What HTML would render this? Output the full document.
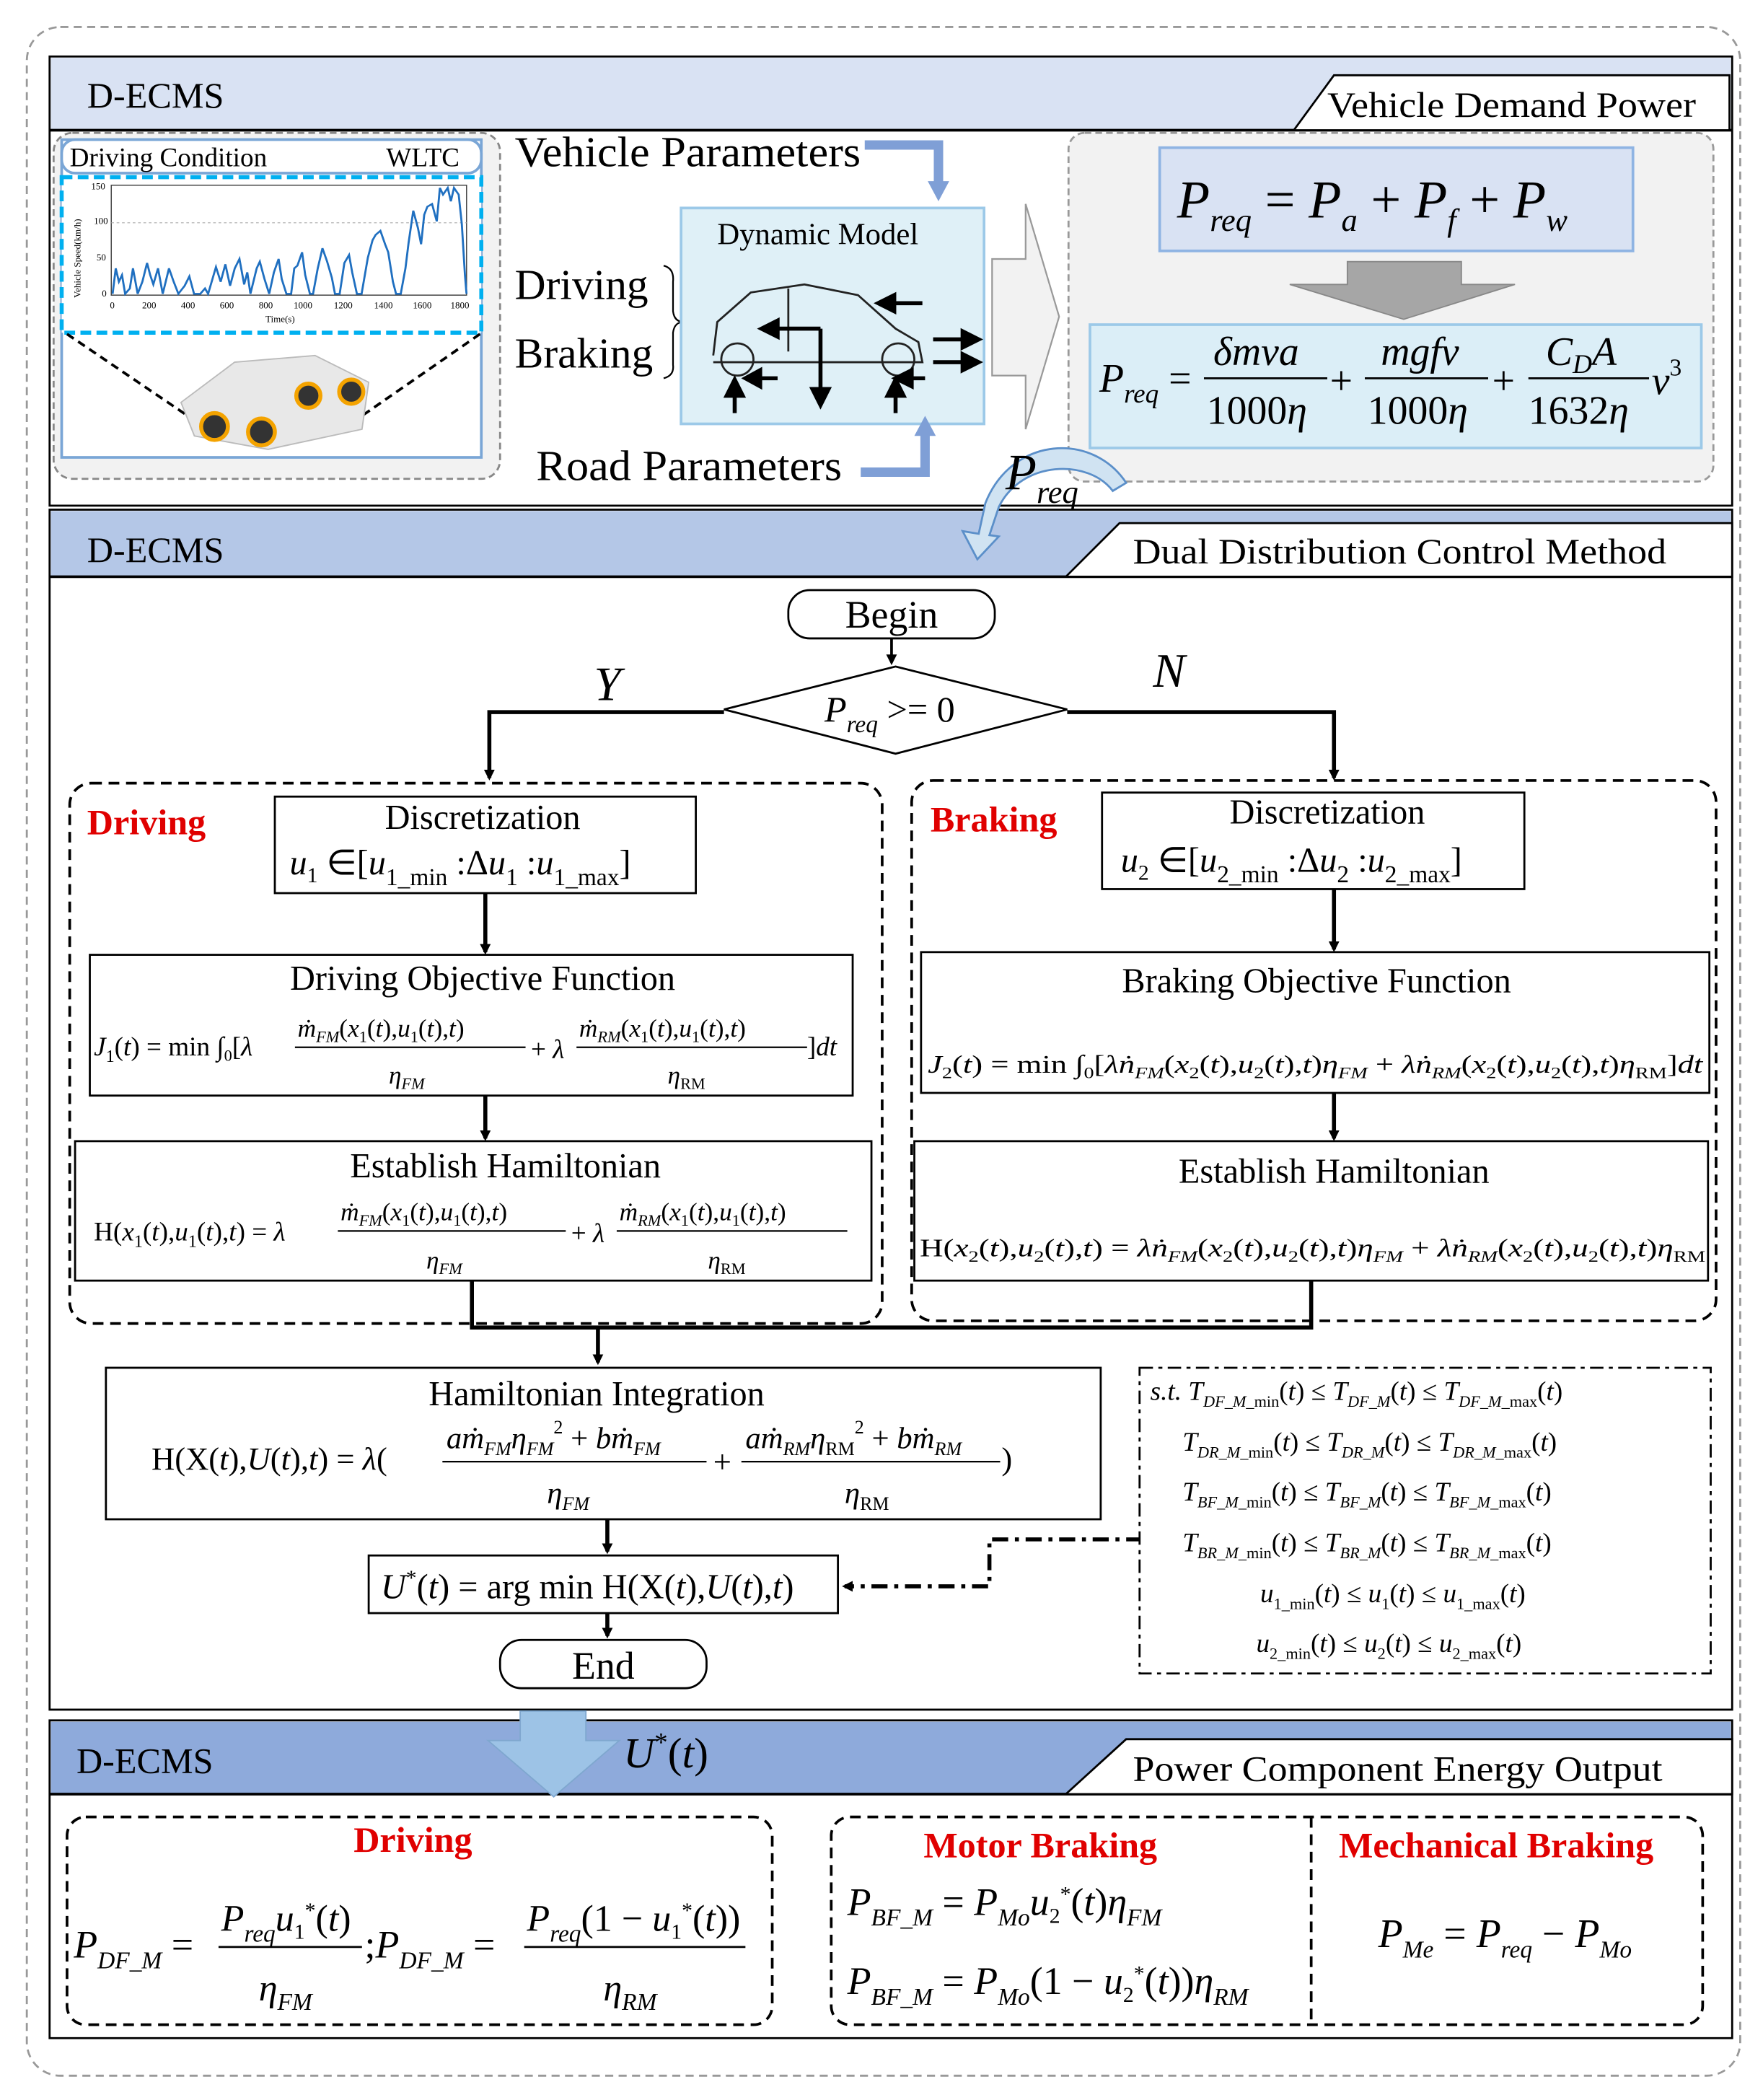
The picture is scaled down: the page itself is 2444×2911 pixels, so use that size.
<!DOCTYPE html>
<html><head><meta charset="utf-8"><style>
html,body{margin:0;padding:0;background:#fff}
svg{display:block}
text{font-family:"Liberation Serif",serif;fill:#000}
.i{font-style:italic}
.red{fill:#e00000;font-weight:bold}
</style></head><body>
<svg width="2444" height="2911" viewBox="0 0 1315 1566" xmlns="http://www.w3.org/2000/svg">
<defs>
<marker id="ah" markerWidth="8" markerHeight="8" refX="6" refY="4" orient="auto" markerUnits="userSpaceOnUse"><path d="M0,0 L8,4 L0,8 Z" fill="#000"/></marker>
</defs>
<rect x="0" y="0" width="1315" height="1566" fill="#fff"/>
<rect x="20" y="20" width="1278" height="1528" rx="25" fill="none" stroke="#999" stroke-width="1.5" stroke-dasharray="6,4"/>

<!-- SECTION 1 -->
<rect x="37" y="42" width="1255" height="335" fill="#fff" stroke="#000" stroke-width="1.5"/>
<rect x="38" y="43" width="1253" height="54" fill="#d9e2f3"/>
<line x1="37" y1="97" x2="1292" y2="97" stroke="#000" stroke-width="2"/>
<text x="65" y="80" font-size="27">D-ECMS</text>
<path d="M965,97 L995,56 L1290,56 L1290,97 Z" fill="#fff" stroke="#000" stroke-width="1.5"/>
<text x="990" y="87" font-size="27" textLength="275" lengthAdjust="spacingAndGlyphs">Vehicle Demand Power</text>

<rect x="40" y="99" width="333" height="258" rx="14" fill="#f2f2f2" stroke="#888" stroke-width="1.5" stroke-dasharray="5,3"/>
<rect x="46" y="104" width="313" height="237" fill="#fff" stroke="#7aa6d6" stroke-width="2"/>
<rect x="46" y="104" width="313" height="25" rx="10" fill="#fff" stroke="#7aa6d6" stroke-width="2"/>
<text x="52" y="124" font-size="20">Driving Condition</text>
<text x="288" y="124" font-size="20">WLTC</text>
<rect x="46" y="132" width="313" height="116" fill="#fff" stroke="#00b0f0" stroke-width="3" stroke-dasharray="8,4"/>
<rect x="83" y="138" width="265" height="82" fill="#fff" stroke="#444" stroke-width="0.8"/>
<line x1="83" y1="166" x2="348" y2="166" stroke="#aaa" stroke-width="0.6" stroke-dasharray="2,2"/>
<polyline transform="translate(84,0) scale(1.168,1) translate(-84,0)" fill="none" stroke="#1f6fc0" stroke-width="1.3" points="84,219 86,200 88,210 90,205 92,219 95,215 97,200 100,219 103,210 106,196 108,205 110,212 113,200 116,219 120,200 123,210 126,219 130,213 133,206 136,219 140,219 143,215 145,219 150,199 153,210 156,197 159,213 162,200 165,193 168,212 170,203 172,219 176,200 178,195 181,208 184,219 187,203 190,193 192,208 195,219 198,219 200,200 202,198 205,188 207,205 210,219 212,219 215,200 218,185 221,195 224,207 226,219 229,219 232,196 235,190 237,203 240,219 243,219 247,192 250,179 252,175 255,172 258,182 260,188 263,210 265,219 268,219 271,200 273,181 276,157 279,170 281,182 283,160 285,154 288,152 291,165 293,140 295,145 298,140 300,150 302,140 305,145 307,167 309,205 310,219"/>
<g font-size="7"><text x="68" y="141">150</text><text x="70" y="167">100</text><text x="72" y="194">50</text><text x="76" y="221">0</text>
<text x="82" y="230">0</text><text x="106" y="230">200</text><text x="135" y="230">400</text><text x="164" y="230">600</text><text x="193" y="230">800</text><text x="219" y="230">1000</text><text x="249" y="230">1200</text><text x="279" y="230">1400</text><text x="308" y="230">1600</text><text x="336" y="230">1800</text>
<text x="198" y="240">Time(s)</text>
<text transform="translate(60,222) rotate(-90)">Vehicle Speed(km/h)</text></g>
<line x1="50" y1="249" x2="140" y2="310" stroke="#000" stroke-width="2" stroke-dasharray="6,4"/>
<line x1="358" y1="249" x2="270" y2="310" stroke="#000" stroke-width="2" stroke-dasharray="6,4"/>
<g>
<path d="M135,300 L175,270 L235,265 L275,285 L270,320 L200,335 L145,325 Z" fill="#e8e8e8" stroke="#bbb"/>
<circle cx="160" cy="318" r="10" fill="#333" stroke="#f4a300" stroke-width="3"/>
<circle cx="195" cy="322" r="10" fill="#333" stroke="#f4a300" stroke-width="3"/>
<circle cx="230" cy="295" r="9" fill="#333" stroke="#f4a300" stroke-width="3"/>
<circle cx="262" cy="292" r="9" fill="#333" stroke="#f4a300" stroke-width="3"/>
</g>

<text x="384" y="124" font-size="32" textLength="258" lengthAdjust="spacingAndGlyphs">Vehicle Parameters</text>
<path d="M645,108 L700,108 L700,138" fill="none" stroke="#7f9fd6" stroke-width="7"/>
<path d="M692,135 L708,135 L700,150 Z" fill="#7f9fd6"/>
<text x="384" y="223" font-size="32">Driving</text>
<text x="384" y="274" font-size="32">Braking</text>
<path d="M495,198 Q503,200 502,210 L502,232 Q503,240 510,240 Q503,240 502,248 L502,272 Q503,280 495,282" fill="none" stroke="#000" stroke-width="1.2"/>
<rect x="508" y="155" width="226" height="161" fill="#dff0f7" stroke="#9cc9e8" stroke-width="2"/>
<text x="535" y="182" font-size="23">Dynamic Model</text>
<g stroke="#222" fill="none" stroke-width="1.5">
<path d="M532,265 L535,240 L560,218 L600,212 L640,220 L668,245 L685,255 L688,270 L532,270"/>
<circle cx="550" cy="268" r="12"/><circle cx="670" cy="268" r="12"/>
<line x1="588" y1="215" x2="588" y2="262"/>
</g>
<g stroke="#000" stroke-width="3" fill="#000">
<line x1="688" y1="226" x2="665" y2="226"/><path d="M655,226 L667,220 L667,232Z"/>
<line x1="612" y1="245" x2="578" y2="245"/><path d="M568,245 L580,239 L580,251Z"/>
<line x1="612" y1="245" x2="612" y2="292"/><path d="M612,302 L606,290 L618,290Z"/>
<line x1="696" y1="253" x2="720" y2="253"/><path d="M730,253 L718,247 L718,259Z"/>
<line x1="696" y1="270" x2="720" y2="270"/><path d="M730,270 L718,264 L718,276Z"/>
<line x1="580" y1="282" x2="565" y2="282"/><path d="M556,282 L567,276 L567,288Z"/>
<line x1="690" y1="282" x2="678" y2="282"/><path d="M668,282 L680,276 L680,288Z"/>
<line x1="548" y1="308" x2="548" y2="292"/><path d="M548,283 L542,295 L554,295Z"/>
<line x1="668" y1="308" x2="668" y2="292"/><path d="M668,283 L662,295 L674,295Z"/>
</g>
<text x="400" y="358" font-size="32" textLength="228" lengthAdjust="spacingAndGlyphs">Road Parameters</text>
<path d="M642,352 L690,352 L690,322" fill="none" stroke="#7f9fd6" stroke-width="7"/>
<path d="M682,325 L698,325 L690,310 Z" fill="#7f9fd6"/>
<path d="M740,193 L765,193 L765,152 L790,236 L765,320 L765,280 L740,280 Z" fill="#f2f2f2" stroke="#999" stroke-width="1.2"/>

<rect x="797" y="99" width="481" height="260" rx="12" fill="#f2f2f2" stroke="#999" stroke-width="1.5" stroke-dasharray="5,3"/>
<rect x="865" y="110" width="353" height="77" fill="#d9e2f3" stroke="#8fb4e3" stroke-width="2"/>
<text x="878" y="162" font-size="40" class="i">P<tspan font-size="24" dy="10">req</tspan><tspan dy="-10" font-style="normal"> = </tspan>P<tspan font-size="24" dy="10">a</tspan><tspan dy="-10" font-style="normal"> + </tspan>P<tspan font-size="24" dy="10">f</tspan><tspan dy="-10" font-style="normal"> + </tspan>P<tspan font-size="24" dy="10">w</tspan></text>
<path d="M1005,195 L1090,195 L1090,212 L1130,212 L1047,238 L962,212 L1005,212 Z" fill="#a6a6a6" stroke="#888"/>
<rect x="813" y="242" width="456" height="92" fill="#dbeef7" stroke="#9cc9e8" stroke-width="2"/>
<text x="820" y="292" font-size="30" class="i">P<tspan font-size="20" dy="8">req</tspan><tspan dy="-8" font-style="normal"> =</tspan></text>
<text x="905" y="272" font-size="30" class="i">δmva</text>
<line x1="898" y1="282" x2="990" y2="282" stroke="#000" stroke-width="1.5"/>
<text x="900" y="316" font-size="30">1000<tspan class="i">η</tspan></text>
<text x="992" y="294" font-size="30">+</text>
<text x="1030" y="272" font-size="30" class="i">mgfv</text>
<line x1="1018" y1="282" x2="1110" y2="282" stroke="#000" stroke-width="1.5"/>
<text x="1020" y="316" font-size="30">1000<tspan class="i">η</tspan></text>
<text x="1113" y="294" font-size="30">+</text>
<text x="1153" y="272" font-size="30" class="i">C<tspan font-size="20" dy="6">D</tspan><tspan dy="-6">A</tspan></text>
<line x1="1140" y1="282" x2="1230" y2="282" stroke="#000" stroke-width="1.5"/>
<text x="1140" y="316" font-size="30">1632<tspan class="i">η</tspan></text>
<text x="1232" y="294" font-size="30" class="i">v<tspan font-size="18" dy="-14" font-style="normal">3</tspan></text>

<!-- SECTION 2 -->
<rect x="37" y="380" width="1255" height="895" fill="#fff" stroke="#000" stroke-width="1.5"/>
<rect x="38" y="381" width="1253" height="49" fill="#b4c7e7"/>
<line x1="37" y1="430" x2="1292" y2="430" stroke="#000" stroke-width="2"/>
<text x="65" y="419" font-size="27">D-ECMS</text>
<path d="M795,430 L835,390 L1292,390 L1292,430 Z" fill="#fff" stroke="#000" stroke-width="1.5"/>
<text x="845" y="420" font-size="27" textLength="398" lengthAdjust="spacingAndGlyphs">Dual Distribution Control Method</text>

<!-- curved Preq arrow -->
<path d="M840,360 C815,322 755,325 735,375 L730,398 L718,396 L729,417 L745,400 L738,399 L745,378 C762,343 812,342 830,366 Z" fill="#d0e3f2" stroke="#5b8fc9" stroke-width="1.5"/>
<text x="750" y="365" font-size="38" class="i">P<tspan font-size="24" dy="10">req</tspan></text>

<rect x="588" y="440" width="154" height="36" rx="16" fill="#fff" stroke="#000" stroke-width="1.5"/>
<text x="665" y="468" font-size="29" text-anchor="middle">Begin</text>
<line x1="665" y1="476" x2="665" y2="494" stroke="#000" stroke-width="2" marker-end="url(#ah)"/>
<path d="M540,529 L668,497 L796,529 L668,562 Z" fill="#fff" stroke="#000" stroke-width="1.5"/>
<text x="615" y="538" font-size="27" class="i">P<tspan font-size="18" dy="8">req</tspan><tspan dy="-8" font-style="normal"> &gt;= 0</tspan></text>
<text x="443" y="522" font-size="36" class="i">Y</text>
<text x="860" y="512" font-size="36" class="i">N</text>
<polyline points="540,531 365,531 365,580" fill="none" stroke="#000" stroke-width="3" marker-end="url(#ah)"/>
<polyline points="796,531 995,531 995,580" fill="none" stroke="#000" stroke-width="3" marker-end="url(#ah)"/>

<rect x="52" y="584" width="606" height="403" rx="16" fill="none" stroke="#000" stroke-width="2" stroke-dasharray="8,5"/>
<rect x="680" y="582" width="600" height="403" rx="16" fill="none" stroke="#000" stroke-width="2" stroke-dasharray="8,5"/>
<text x="65" y="622" font-size="27" class="red">Driving</text>
<text x="694" y="620" font-size="27" class="red">Braking</text>

<rect x="205" y="594" width="314" height="72" fill="#fff" stroke="#000" stroke-width="1.5"/>
<text x="360" y="618" font-size="26" text-anchor="middle">Discretization</text>
<text x="216" y="652" font-size="26"><tspan class="i">u</tspan><tspan font-size="16" dy="6">1</tspan><tspan dy="-6"> ∈[</tspan><tspan class="i">u</tspan><tspan font-size="18" dy="8">1_min</tspan><tspan dy="-8"> :Δ</tspan><tspan class="i">u</tspan><tspan font-size="18" dy="8">1</tspan><tspan dy="-8"> :</tspan><tspan class="i">u</tspan><tspan font-size="18" dy="8">1_max</tspan><tspan dy="-8">]</tspan></text>
<rect x="822" y="591" width="315" height="72" fill="#fff" stroke="#000" stroke-width="1.5"/>
<text x="990" y="614" font-size="26" text-anchor="middle">Discretization</text>
<text x="836" y="650" font-size="26"><tspan class="i">u</tspan><tspan font-size="16" dy="6">2</tspan><tspan dy="-6"> ∈[</tspan><tspan class="i">u</tspan><tspan font-size="18" dy="8">2_min</tspan><tspan dy="-8"> :Δ</tspan><tspan class="i">u</tspan><tspan font-size="18" dy="8">2</tspan><tspan dy="-8"> :</tspan><tspan class="i">u</tspan><tspan font-size="18" dy="8">2_max</tspan><tspan dy="-8">]</tspan></text>

<line x1="362" y1="666" x2="362" y2="710" stroke="#000" stroke-width="3" marker-end="url(#ah)"/>
<line x1="995" y1="663" x2="995" y2="708" stroke="#000" stroke-width="3" marker-end="url(#ah)"/>

<rect x="67" y="712" width="569" height="105" fill="#fff" stroke="#000" stroke-width="1.5"/>
<text x="360" y="738" font-size="26" text-anchor="middle">Driving Objective Function</text>
<text x="70" y="787" font-size="20"><tspan class="i">J</tspan><tspan font-size="13" dy="5">1</tspan><tspan dy="-5">(</tspan><tspan class="i">t</tspan>) = min ∫<tspan font-size="12" dy="4">0</tspan><tspan dy="-4">[</tspan><tspan class="i">λ</tspan></text>
<text x="222" y="773" font-size="19" class="i">ṁ<tspan font-size="12" dy="4">FM</tspan><tspan dy="-4" font-style="normal">(</tspan>x<tspan font-size="12" dy="4" font-style="normal">1</tspan><tspan dy="-4" font-style="normal">(</tspan>t<tspan font-style="normal">),</tspan>u<tspan font-size="12" dy="4" font-style="normal">1</tspan><tspan dy="-4" font-style="normal">(</tspan>t<tspan font-style="normal">),</tspan>t<tspan font-style="normal">)</tspan></text>
<line x1="220" y1="781" x2="392" y2="781" stroke="#000" stroke-width="1.2"/>
<text x="290" y="808" font-size="19" class="i">η<tspan font-size="12" dy="4">FM</tspan></text>
<text x="396" y="789" font-size="20">+ <tspan class="i">λ</tspan></text>
<text x="432" y="773" font-size="19" class="i">ṁ<tspan font-size="12" dy="4">RM</tspan><tspan dy="-4" font-style="normal">(</tspan>x<tspan font-size="12" dy="4" font-style="normal">1</tspan><tspan dy="-4" font-style="normal">(</tspan>t<tspan font-style="normal">),</tspan>u<tspan font-size="12" dy="4" font-style="normal">1</tspan><tspan dy="-4" font-style="normal">(</tspan>t<tspan font-style="normal">),</tspan>t<tspan font-style="normal">)</tspan></text>
<line x1="430" y1="781" x2="602" y2="781" stroke="#000" stroke-width="1.2"/>
<text x="498" y="808" font-size="19" class="i">η<tspan font-size="12" dy="4" font-style="normal">RM</tspan></text>
<text x="602" y="787" font-size="20">]<tspan class="i">dt</tspan></text>

<rect x="687" y="710" width="588" height="105" fill="#fff" stroke="#000" stroke-width="1.5"/>
<text x="982" y="740" font-size="26" text-anchor="middle">Braking Objective Function</text>
<text x="692" y="800" font-size="19" textLength="578" lengthAdjust="spacingAndGlyphs"><tspan class="i">J</tspan><tspan font-size="12" dy="4">2</tspan><tspan dy="-4">(</tspan><tspan class="i">t</tspan>) = min ∫<tspan font-size="12" dy="4">0</tspan><tspan dy="-4">[</tspan><tspan class="i">λṅ</tspan><tspan font-size="12" dy="4" class="i">FM</tspan><tspan dy="-4">(</tspan><tspan class="i">x</tspan><tspan font-size="12" dy="4">2</tspan><tspan dy="-4">(</tspan><tspan class="i">t</tspan>),<tspan class="i">u</tspan><tspan font-size="12" dy="4">2</tspan><tspan dy="-4">(</tspan><tspan class="i">t</tspan>),<tspan class="i">t</tspan>)<tspan class="i">η</tspan><tspan font-size="12" dy="4" class="i">FM</tspan><tspan dy="-4"> + </tspan><tspan class="i">λṅ</tspan><tspan font-size="12" dy="4" class="i">RM</tspan><tspan dy="-4">(</tspan><tspan class="i">x</tspan><tspan font-size="12" dy="4">2</tspan><tspan dy="-4">(</tspan><tspan class="i">t</tspan>),<tspan class="i">u</tspan><tspan font-size="12" dy="4">2</tspan><tspan dy="-4">(</tspan><tspan class="i">t</tspan>),<tspan class="i">t</tspan>)<tspan class="i">η</tspan><tspan font-size="12" dy="4">RM</tspan><tspan dy="-4">]</tspan><tspan class="i">dt</tspan></text>

<line x1="362" y1="817" x2="362" y2="849" stroke="#000" stroke-width="3" marker-end="url(#ah)"/>
<line x1="995" y1="815" x2="995" y2="849" stroke="#000" stroke-width="3" marker-end="url(#ah)"/>

<rect x="56" y="851" width="594" height="104" fill="#fff" stroke="#000" stroke-width="1.5"/>
<text x="377" y="878" font-size="26" text-anchor="middle">Establish Hamiltonian</text>
<text x="70" y="925" font-size="20">H(<tspan class="i">x</tspan><tspan font-size="13" dy="5">1</tspan><tspan dy="-5">(</tspan><tspan class="i">t</tspan>),<tspan class="i">u</tspan><tspan font-size="13" dy="5">1</tspan><tspan dy="-5">(</tspan><tspan class="i">t</tspan>),<tspan class="i">t</tspan>) = <tspan class="i">λ</tspan></text>
<text x="254" y="910" font-size="19" class="i">ṁ<tspan font-size="12" dy="4">FM</tspan><tspan dy="-4" font-style="normal">(</tspan>x<tspan font-size="12" dy="4" font-style="normal">1</tspan><tspan dy="-4" font-style="normal">(</tspan>t<tspan font-style="normal">),</tspan>u<tspan font-size="12" dy="4" font-style="normal">1</tspan><tspan dy="-4" font-style="normal">(</tspan>t<tspan font-style="normal">),</tspan>t<tspan font-style="normal">)</tspan></text>
<line x1="252" y1="918" x2="422" y2="918" stroke="#000" stroke-width="1.2"/>
<text x="318" y="946" font-size="19" class="i">η<tspan font-size="12" dy="4">FM</tspan></text>
<text x="426" y="926" font-size="20">+ <tspan class="i">λ</tspan></text>
<text x="462" y="910" font-size="19" class="i">ṁ<tspan font-size="12" dy="4">RM</tspan><tspan dy="-4" font-style="normal">(</tspan>x<tspan font-size="12" dy="4" font-style="normal">1</tspan><tspan dy="-4" font-style="normal">(</tspan>t<tspan font-style="normal">),</tspan>u<tspan font-size="12" dy="4" font-style="normal">1</tspan><tspan dy="-4" font-style="normal">(</tspan>t<tspan font-style="normal">),</tspan>t<tspan font-style="normal">)</tspan></text>
<line x1="460" y1="918" x2="632" y2="918" stroke="#000" stroke-width="1.2"/>
<text x="528" y="946" font-size="19" class="i">η<tspan font-size="12" dy="4" font-style="normal">RM</tspan></text>

<rect x="682" y="851" width="592" height="104" fill="#fff" stroke="#000" stroke-width="1.5"/>
<text x="995" y="882" font-size="26" text-anchor="middle">Establish Hamiltonian</text>
<text x="686" y="937" font-size="19" textLength="586" lengthAdjust="spacingAndGlyphs">H(<tspan class="i">x</tspan><tspan font-size="12" dy="4">2</tspan><tspan dy="-4">(</tspan><tspan class="i">t</tspan>),<tspan class="i">u</tspan><tspan font-size="12" dy="4">2</tspan><tspan dy="-4">(</tspan><tspan class="i">t</tspan>),<tspan class="i">t</tspan>) = <tspan class="i">λṅ</tspan><tspan font-size="12" dy="4" class="i">FM</tspan><tspan dy="-4">(</tspan><tspan class="i">x</tspan><tspan font-size="12" dy="4">2</tspan><tspan dy="-4">(</tspan><tspan class="i">t</tspan>),<tspan class="i">u</tspan><tspan font-size="12" dy="4">2</tspan><tspan dy="-4">(</tspan><tspan class="i">t</tspan>),<tspan class="i">t</tspan>)<tspan class="i">η</tspan><tspan font-size="12" dy="4" class="i">FM</tspan><tspan dy="-4"> + </tspan><tspan class="i">λṅ</tspan><tspan font-size="12" dy="4" class="i">RM</tspan><tspan dy="-4">(</tspan><tspan class="i">x</tspan><tspan font-size="12" dy="4">2</tspan><tspan dy="-4">(</tspan><tspan class="i">t</tspan>),<tspan class="i">u</tspan><tspan font-size="12" dy="4">2</tspan><tspan dy="-4">(</tspan><tspan class="i">t</tspan>),<tspan class="i">t</tspan>)<tspan class="i">η</tspan><tspan font-size="12" dy="4">RM</tspan></text>

<polyline points="352,955 352,990 978,990 978,955" fill="none" stroke="#000" stroke-width="3"/>
<line x1="446" y1="990" x2="446" y2="1016" stroke="#000" stroke-width="3" marker-end="url(#ah)"/>

<rect x="79" y="1020" width="742" height="113" fill="#fff" stroke="#000" stroke-width="1.5"/>
<text x="445" y="1048" font-size="26" text-anchor="middle">Hamiltonian Integration</text>
<text x="113" y="1096" font-size="24">H(X(<tspan class="i">t</tspan>),<tspan class="i">U</tspan>(<tspan class="i">t</tspan>),<tspan class="i">t</tspan>) = <tspan class="i">λ</tspan>(</text>
<text x="333" y="1080" font-size="23" class="i">aṁ<tspan font-size="14" dy="5">FM</tspan><tspan dy="-5">η</tspan><tspan font-size="14" dy="5">FM</tspan><tspan font-size="14" dy="-16" font-style="normal">2</tspan><tspan dy="11" font-style="normal"> + </tspan>bṁ<tspan font-size="14" dy="5">FM</tspan></text>
<line x1="330" y1="1090" x2="527" y2="1090" stroke="#000" stroke-width="1.2"/>
<text x="408" y="1121" font-size="23" class="i">η<tspan font-size="14" dy="5">FM</tspan></text>
<text x="532" y="1098" font-size="24">+</text>
<text x="556" y="1080" font-size="23" class="i">aṁ<tspan font-size="14" dy="5">RM</tspan><tspan dy="-5">η</tspan><tspan font-size="14" dy="5" font-style="normal">RM</tspan><tspan font-size="14" dy="-16" font-style="normal">2</tspan><tspan dy="11" font-style="normal"> + </tspan>bṁ<tspan font-size="14" dy="5">RM</tspan></text>
<line x1="553" y1="1090" x2="746" y2="1090" stroke="#000" stroke-width="1.2"/>
<text x="630" y="1121" font-size="23" class="i">η<tspan font-size="14" dy="5" font-style="normal">RM</tspan></text>
<text x="747" y="1096" font-size="24">)</text>

<line x1="453" y1="1133" x2="453" y2="1157" stroke="#000" stroke-width="3" marker-end="url(#ah)"/>
<rect x="275" y="1160" width="350" height="43" fill="#fff" stroke="#000" stroke-width="1.5"/>
<text x="284" y="1192" font-size="26"><tspan class="i">U</tspan><tspan font-size="16" dy="-10">*</tspan><tspan dy="10">(</tspan><tspan class="i">t</tspan>) = arg min H(X(<tspan class="i">t</tspan>),<tspan class="i">U</tspan>(<tspan class="i">t</tspan>),<tspan class="i">t</tspan>)</text>
<polyline points="852,1148 738,1148 738,1183 630,1183" fill="none" stroke="#000" stroke-width="3" stroke-dasharray="12,5,3,5" marker-end="url(#ah)"/>
<line x1="453" y1="1203" x2="453" y2="1220" stroke="#000" stroke-width="3" marker-end="url(#ah)"/>
<rect x="373" y="1223" width="154" height="36" rx="16" fill="#fff" stroke="#000" stroke-width="1.5"/>
<text x="450" y="1252" font-size="29" text-anchor="middle">End</text>

<rect x="850" y="1020" width="426" height="228" fill="#fff" stroke="#000" stroke-width="1.5" stroke-dasharray="10,4,3,4"/>
<g font-size="20">
<text x="858" y="1044"><tspan class="i">s.t.</tspan>   <tspan class="i">T</tspan><tspan font-size="12" dy="5" class="i">DF_M_</tspan><tspan font-size="12">min</tspan><tspan dy="-5">(</tspan><tspan class="i">t</tspan>) ≤ <tspan class="i">T</tspan><tspan font-size="12" dy="5" class="i">DF_M</tspan><tspan dy="-5">(</tspan><tspan class="i">t</tspan>) ≤ <tspan class="i">T</tspan><tspan font-size="12" dy="5" class="i">DF_M_</tspan><tspan font-size="12">max</tspan><tspan dy="-5">(</tspan><tspan class="i">t</tspan>)</text>
<text x="882" y="1082"><tspan class="i">T</tspan><tspan font-size="12" dy="5" class="i">DR_M_</tspan><tspan font-size="12">min</tspan><tspan dy="-5">(</tspan><tspan class="i">t</tspan>) ≤ <tspan class="i">T</tspan><tspan font-size="12" dy="5" class="i">DR_M</tspan><tspan dy="-5">(</tspan><tspan class="i">t</tspan>) ≤ <tspan class="i">T</tspan><tspan font-size="12" dy="5" class="i">DR_M_</tspan><tspan font-size="12">max</tspan><tspan dy="-5">(</tspan><tspan class="i">t</tspan>)</text>
<text x="882" y="1119"><tspan class="i">T</tspan><tspan font-size="12" dy="5" class="i">BF_M_</tspan><tspan font-size="12">min</tspan><tspan dy="-5">(</tspan><tspan class="i">t</tspan>) ≤ <tspan class="i">T</tspan><tspan font-size="12" dy="5" class="i">BF_M</tspan><tspan dy="-5">(</tspan><tspan class="i">t</tspan>) ≤ <tspan class="i">T</tspan><tspan font-size="12" dy="5" class="i">BF_M_</tspan><tspan font-size="12">max</tspan><tspan dy="-5">(</tspan><tspan class="i">t</tspan>)</text>
<text x="882" y="1157"><tspan class="i">T</tspan><tspan font-size="12" dy="5" class="i">BR_M_</tspan><tspan font-size="12">min</tspan><tspan dy="-5">(</tspan><tspan class="i">t</tspan>) ≤ <tspan class="i">T</tspan><tspan font-size="12" dy="5" class="i">BR_M</tspan><tspan dy="-5">(</tspan><tspan class="i">t</tspan>) ≤ <tspan class="i">T</tspan><tspan font-size="12" dy="5" class="i">BR_M_</tspan><tspan font-size="12">max</tspan><tspan dy="-5">(</tspan><tspan class="i">t</tspan>)</text>
<text x="940" y="1195"><tspan class="i">u</tspan><tspan font-size="12" dy="5">1_min</tspan><tspan dy="-5">(</tspan><tspan class="i">t</tspan>) ≤ <tspan class="i">u</tspan><tspan font-size="12" dy="5">1</tspan><tspan dy="-5">(</tspan><tspan class="i">t</tspan>) ≤ <tspan class="i">u</tspan><tspan font-size="12" dy="5">1_max</tspan><tspan dy="-5">(</tspan><tspan class="i">t</tspan>)</text>
<text x="937" y="1232"><tspan class="i">u</tspan><tspan font-size="12" dy="5">2_min</tspan><tspan dy="-5">(</tspan><tspan class="i">t</tspan>) ≤ <tspan class="i">u</tspan><tspan font-size="12" dy="5">2</tspan><tspan dy="-5">(</tspan><tspan class="i">t</tspan>) ≤ <tspan class="i">u</tspan><tspan font-size="12" dy="5">2_max</tspan><tspan dy="-5">(</tspan><tspan class="i">t</tspan>)</text>
</g>

<!-- SECTION 3 -->
<rect x="37" y="1283" width="1255" height="237" fill="#fff" stroke="#000" stroke-width="1.5"/>
<rect x="38" y="1284" width="1253" height="54" fill="#8eaadb"/>
<line x1="37" y1="1338" x2="1292" y2="1338" stroke="#000" stroke-width="2"/>
<text x="57" y="1322" font-size="27">D-ECMS</text>
<path d="M795,1338 L840,1297 L1292,1297 L1292,1338 Z" fill="#fff" stroke="#000" stroke-width="1.5"/>
<text x="845" y="1328" font-size="27" textLength="395" lengthAdjust="spacingAndGlyphs">Power Component Energy Output</text>
<path d="M388,1276 L437,1276 L437,1298 L462,1298 L413,1340 L364,1298 L388,1298 Z" fill="#9dc3e6" stroke="#7fa7cf" stroke-width="1"/>
<text x="465" y="1318" font-size="32" class="i">U<tspan font-size="20" dy="-12" font-style="normal">*</tspan><tspan dy="12" font-style="normal">(</tspan>t<tspan font-style="normal">)</tspan></text>

<rect x="50" y="1355" width="526" height="155" rx="14" fill="none" stroke="#000" stroke-width="2" stroke-dasharray="8,5"/>
<text x="308" y="1381" font-size="27" class="red" text-anchor="middle">Driving</text>
<text x="55" y="1460" font-size="29" class="i">P<tspan font-size="18" dy="8">DF_M</tspan><tspan dy="-8" font-style="normal"> =</tspan></text>
<text x="165" y="1440" font-size="28" class="i">P<tspan font-size="18" dy="8">req</tspan><tspan dy="-8">u</tspan><tspan font-size="16" dy="6" font-style="normal">1</tspan><tspan font-size="16" dy="-16" font-style="normal">*</tspan><tspan dy="10" font-style="normal">(</tspan>t<tspan font-style="normal">)</tspan></text>
<line x1="163" y1="1452" x2="270" y2="1452" stroke="#000" stroke-width="1.5"/>
<text x="193" y="1492" font-size="28" class="i">η<tspan font-size="18" dy="7">FM</tspan></text>
<text x="272" y="1460" font-size="29">;<tspan class="i">P</tspan><tspan font-size="18" dy="8" class="i">DF_M</tspan><tspan dy="-8"> =</tspan></text>
<text x="393" y="1440" font-size="28" class="i">P<tspan font-size="18" dy="8">req</tspan><tspan dy="-8" font-style="normal">(1 − </tspan>u<tspan font-size="16" dy="6" font-style="normal">1</tspan><tspan font-size="16" dy="-16" font-style="normal">*</tspan><tspan dy="10" font-style="normal">(</tspan>t<tspan font-style="normal">))</tspan></text>
<line x1="391" y1="1452" x2="556" y2="1452" stroke="#000" stroke-width="1.5"/>
<text x="450" y="1492" font-size="28" class="i">η<tspan font-size="18" dy="7">RM</tspan></text>

<rect x="620" y="1355" width="650" height="155" rx="14" fill="none" stroke="#000" stroke-width="2" stroke-dasharray="8,5"/>
<line x1="978" y1="1355" x2="978" y2="1510" stroke="#000" stroke-width="2" stroke-dasharray="8,5"/>
<text x="776" y="1385" font-size="27" class="red" text-anchor="middle">Motor Braking</text>
<text x="1116" y="1385" font-size="27" class="red" text-anchor="middle">Mechanical Braking</text>
<text x="632" y="1428" font-size="29" class="i">P<tspan font-size="18" dy="8">BF_M</tspan><tspan dy="-8" font-style="normal"> = </tspan>P<tspan font-size="18" dy="8">Mo</tspan><tspan dy="-8">u</tspan><tspan font-size="16" dy="6" font-style="normal">2</tspan><tspan font-size="16" dy="-16" font-style="normal">*</tspan><tspan dy="10" font-style="normal">(</tspan>t<tspan font-style="normal">)</tspan>η<tspan font-size="18" dy="8">FM</tspan></text>
<text x="632" y="1487" font-size="29" class="i">P<tspan font-size="18" dy="8">BF_M</tspan><tspan dy="-8" font-style="normal"> = </tspan>P<tspan font-size="18" dy="8">Mo</tspan><tspan dy="-8" font-style="normal">(1 − </tspan>u<tspan font-size="16" dy="6" font-style="normal">2</tspan><tspan font-size="16" dy="-16" font-style="normal">*</tspan><tspan dy="10" font-style="normal">(</tspan>t<tspan font-style="normal">))</tspan>η<tspan font-size="18" dy="8">RM</tspan></text>
<text x="1028" y="1452" font-size="30" class="i">P<tspan font-size="18" dy="8">Me</tspan><tspan dy="-8" font-style="normal"> = </tspan>P<tspan font-size="18" dy="8">req</tspan><tspan dy="-8" font-style="normal"> − </tspan>P<tspan font-size="18" dy="8">Mo</tspan></text>
</svg>
</body></html>
